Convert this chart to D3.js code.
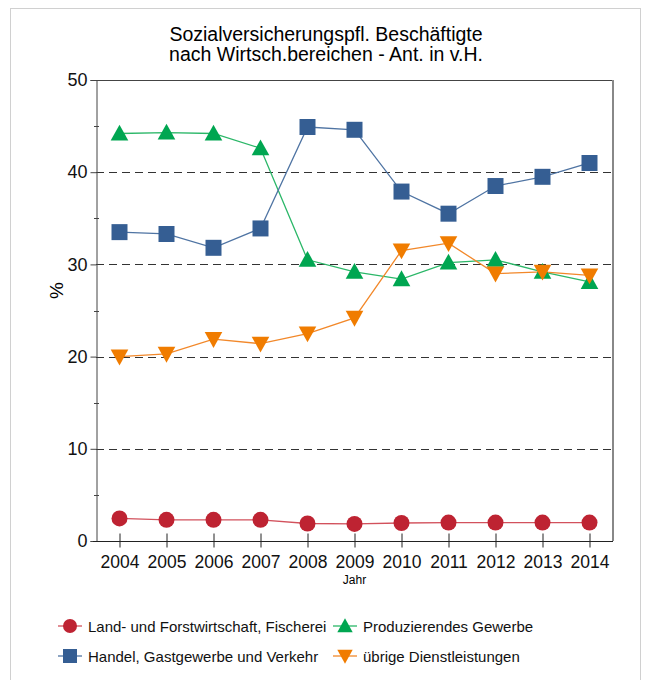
<!DOCTYPE html>
<html>
<head>
<meta charset="utf-8">
<script src="https://cdn.jsdelivr.net/npm/d3@7"></script>
<style>
  body { margin: 0; background: #fff; }
  svg { display: block; font-family: "Liberation Sans", Arial, sans-serif; }
</style>
</head>
<body>
<div id="chart"></div>
<script>
// data
var years = [2004, 2005, 2006, 2007, 2008, 2009, 2010, 2011, 2012, 2013, 2014];
var landwirtschaft = [2.45, 2.3, 2.3, 2.3, 1.9, 1.85, 1.95, 2.0, 2.0, 2.0, 2.0];
var produzierendes = [44.2, 44.3, 44.2, 42.6, 30.5, 29.2, 28.4, 30.2, 30.5, 29.2, 28.1];
var handel = [33.5, 33.3, 31.8, 33.9, 44.9, 44.6, 37.9, 35.5, 38.5, 39.5, 41.0];
var uebrige = [20.0, 20.3, 21.9, 21.4, 22.5, 24.2, 31.5, 32.3, 29.0, 29.2, 28.8];
var yTicks = [0, 10, 20, 30, 40, 50];
var gridValues = [10, 20, 30, 40];

var series = [
    {name: 'Land- und Forstwirtschaft, Fischerei', values: landwirtschaft, color: '#be2332', line: '#d2515c', shape: 'circle'},
    {name: 'Produzierendes Gewerbe', values: produzierendes, color: '#00a651', line: '#2bb768', shape: 'up'},
    {name: 'Handel, Gastgewerbe und Verkehr', values: handel, color: '#355e93', line: '#4f74a3', shape: 'square'},
    {name: 'übrige Dienstleistungen', values: uebrige, color: '#f07c00', line: '#f2882a', shape: 'down'}
];

var W = 648, H = 680;
var margin = {top: 80, right: 35, bottom: 139, left: 96};
var w = W - margin.left - margin.right,
    h = H - margin.top - margin.bottom;

var svg = d3.select('#chart').append('svg')
    .attr('width', W)
    .attr('height', H);

// outer frame
svg.append('rect')
    .attr('x', 10.5).attr('y', 8.5)
    .attr('width', 630).attr('height', 675)
    .attr('fill', 'none').attr('stroke', '#d0d0d0');

// title
svg.append('text').attr('x', 326).attr('y', 41)
    .attr('text-anchor', 'middle').style('font-size', '19.5px')
    .text('Sozialversicherungspfl. Beschäftigte');
svg.append('text').attr('x', 326).attr('y', 61)
    .attr('text-anchor', 'middle').style('font-size', '19.5px')
    .text('nach Wirtsch.bereichen - Ant. in v.H.');

var g = svg.append('g')
    .attr('transform', 'translate(' + margin.left + ',' + margin.top + ')');

var x = d3.scalePoint()
    .domain(years)
    .range([0, w])
    .padding(0.5);

var y = d3.scaleLinear()
    .domain([0, 50])
    .range([h, 0]);

// dashed grid lines
g.selectAll('.grid')
    .data(gridValues)
    .enter().append('line')
        .attr('x1', 0).attr('x2', w)
        .attr('y1', function(d) { return Math.round(y(d)) + 0.5; })
        .attr('y2', function(d) { return Math.round(y(d)) + 0.5; })
        .attr('stroke', '#333')
        .attr('stroke-dasharray', '8,5');

// top and right border of the plot
g.append('line').attr('x1', 0).attr('x2', w).attr('y1', 0.5).attr('y2', 0.5)
    .attr('stroke', '#444');
g.append('line').attr('x1', w).attr('x2', w).attr('y1', 0).attr('y2', h)
    .attr('stroke', '#888').attr('stroke-width', 2);

// y axis
var yAxis = g.append('g')
    .attr('transform', 'translate(0.5,0)')
    .call(d3.axisLeft(y).tickValues(yTicks).tickSize(6).tickPadding(3).tickFormat(d3.format('d')));
yAxis.select('.domain').attr('stroke', '#444');
yAxis.selectAll('.tick line').attr('stroke', '#444');
yAxis.selectAll('text').style('font-size', '18px').attr('fill', '#111');

// minor ticks at 5, 15 ...
g.selectAll('.minor')
    .data([5, 15, 25, 35, 45])
    .enter().append('line')
        .attr('x1', -2).attr('x2', 3)
        .attr('y1', function(d) { return Math.round(y(d)) + 0.5; })
        .attr('y2', function(d) { return Math.round(y(d)) + 0.5; })
        .attr('stroke', '#444');

// x axis
var xAxis = g.append('g')
    .attr('transform', 'translate(0,' + (h + 0.5) + ')')
    .call(d3.axisBottom(x).tickSize(6).tickPadding(8));
xAxis.select('.domain').attr('d', 'M-3,0H' + w).attr('stroke', '#222');
xAxis.selectAll('.tick line').attr('y1', -8).attr('y2', 6).attr('stroke', '#222');
xAxis.selectAll('text').style('font-size', '17.5px').attr('fill', '#111');

// axis titles
g.append('text')
    .attr('x', w / 2).attr('y', h + 43)
    .attr('text-anchor', 'middle').style('font-size', '12px')
    .text('Jahr');
g.append('text')
    .attr('transform', 'translate(-33,' + (h / 2 - 20) + ') rotate(-90)')
    .attr('text-anchor', 'middle').style('font-size', '19px')
    .text('%');

function markerPath(shape, s) {
    if (shape == 'circle') {
        return d3.symbol().type(d3.symbolCircle).size(Math.PI * s * s / 4)();
    }
    else if (shape == 'square') {
        var a = s / 2;
        return 'M' + (-a) + ',' + (-a) + 'H' + a + 'V' + a + 'H' + (-a) + 'Z';
    }
    else if (shape == 'up') {
        var b = s * 0.55;
        return 'M0,' + (-b) + 'L' + b + ',' + (b * 0.8) + 'L' + (-b) + ',' + (b * 0.8) + 'Z';
    }
    else {
        var c = s * 0.55;
        return 'M0,' + c + 'L' + c + ',' + (-c * 0.8) + 'L' + (-c) + ',' + (-c * 0.8) + 'Z';
    }
}

var line = d3.line()
    .x(function(d, i) { return x(years[i]); })
    .y(function(d) { return y(d); });

// lines first, then markers
series.forEach(function(s) {
    g.append('path')
        .datum(s.values)
        .attr('fill', 'none')
        .attr('stroke', s.line)
        .attr('stroke-width', 1.3)
        .attr('d', line);
});

series.forEach(function(s) {
    g.selectAll('.m')
        .data(s.values)
        .enter().append('path')
            .attr('transform', function(d, i) { return 'translate(' + x(years[i]) + ',' + y(d) + ')'; })
            .attr('d', markerPath(s.shape, 16))
            .attr('fill', s.color);
});

// legend
var legendPos = [[58, 626], [333, 626], [58, 656], [333, 656]];
var legendOrder = [0, 1, 2, 3];
legendOrder.forEach(function(k, i) {
    var s = series[k];
    var lg = svg.append('g')
        .attr('transform', 'translate(' + legendPos[i][0] + ',' + legendPos[i][1] + ')');
    lg.append('line').attr('x1', 0).attr('x2', 24).attr('y1', 0).attr('y2', 0)
        .attr('stroke', s.line).attr('stroke-width', 1.3);
    lg.append('path').attr('transform', 'translate(12,0)')
        .attr('d', markerPath(s.shape, 14)).attr('fill', s.color);
    lg.append('text').attr('x', 30).attr('y', 5.5)
        .style('font-size', '15px').attr('fill', '#111')
        .text(s.name);
});
</script>
</body>
</html>
